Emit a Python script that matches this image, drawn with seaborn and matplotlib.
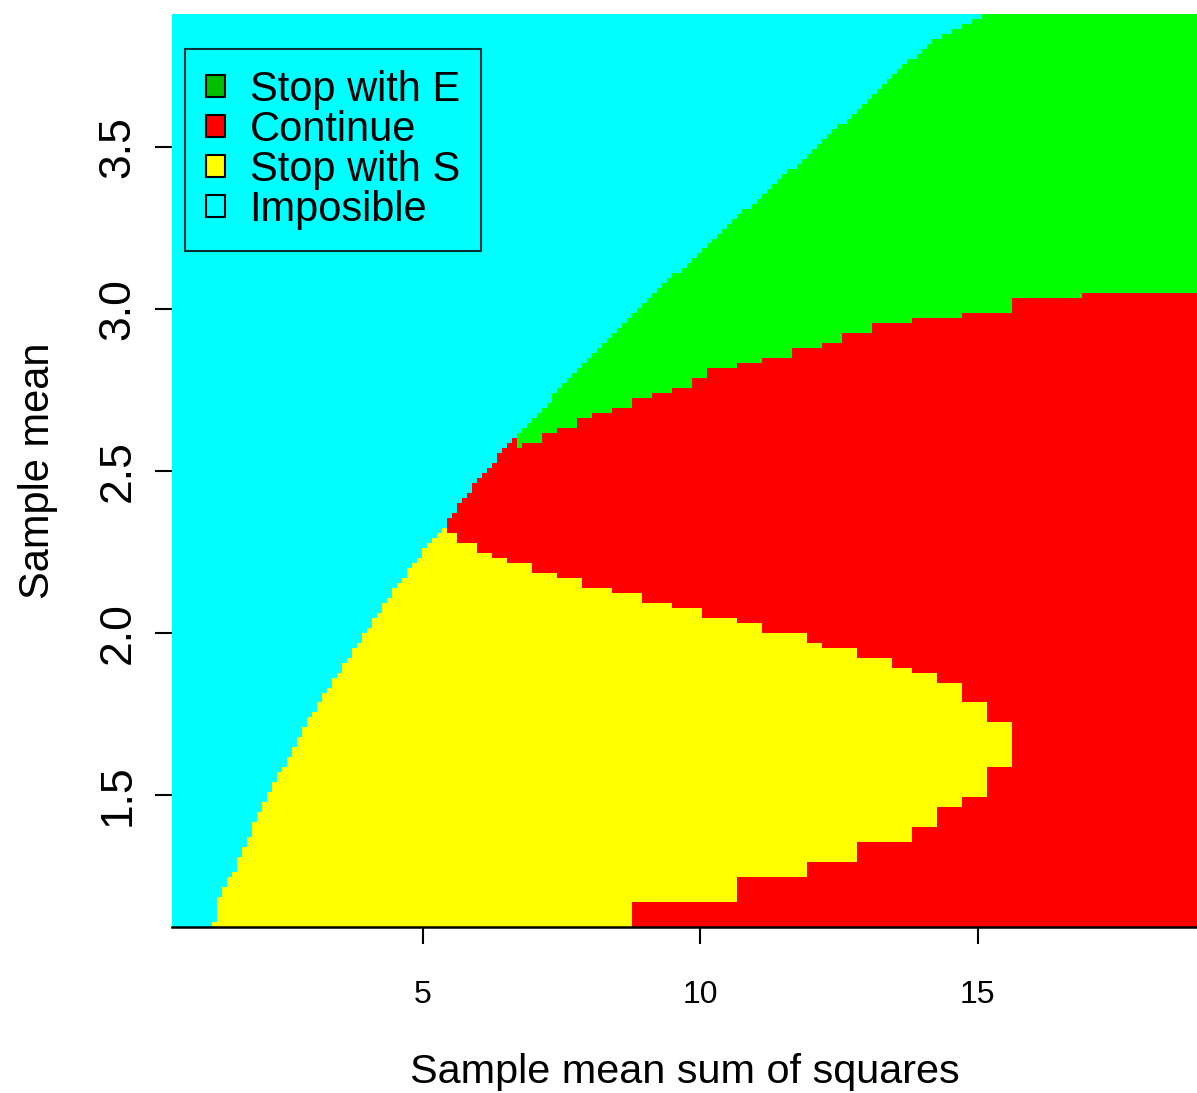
import numpy as np
import matplotlib
matplotlib.use("Agg")
import matplotlib.pyplot as plt
from matplotlib.colors import ListedColormap
from matplotlib.patches import Patch
import seaborn as sns

# ---------------- data ----------------
x_range = [0.48, 18.95]          # sample mean sum of squares
y_range = [1.094, 3.909]         # sample mean

# boundary of the "Imposible" region: for a given sample mean (y), cyan left of x
impossible_y = [1.094, 1.208, 1.272, 1.383, 1.478, 1.60, 1.737, 2.0, 2.162, 2.272,
                2.318, 2.438, 2.49, 2.638, 2.81, 2.95, 3.085, 3.25, 3.5, 3.71,
                3.77, 3.83, 3.909]
impossible_x = [1.22, 1.36, 1.62, 1.90, 2.14, 2.53, 2.95, 3.95, 4.60, 5.10,
                5.33, 5.85, 6.08, 6.85, 7.80, 8.60, 9.43, 10.45, 12.1, 13.45,
                13.81, 14.26, 15.13]

# "Stop with S": horizontal bands (lower edges in y) and right edge in x
stop_s_y_edges = [1.094, 1.168, 1.242, 1.300, 1.358, 1.408, 1.457, 1.500, 1.580,
                  1.722, 1.786, 1.845, 1.875, 1.900, 1.925, 1.949, 1.974, 2.008,
                  2.032, 2.048, 2.072, 2.097, 2.122, 2.146, 2.171, 2.186, 2.214,
                  2.235, 2.254, 2.278, 2.306, 2.318]
stop_s_x_right = [8.73, 10.66, 11.90, 12.82, 13.83, 14.26, 14.69, 15.13, 15.59,
                  15.13, 14.69, 14.26, 13.81, 13.45, 12.82, 12.19, 11.90, 11.13,
                  10.66, 10.06, 9.45, 8.91, 8.39, 7.90, 7.43, 7.00, 6.51, 6.22,
                  5.94, 5.65, 5.41]

# "Stop with E": vertical bands (left edges in x) and lower edge in y
stop_e_x_edges = [6.66, 6.80, 7.14, 7.43, 7.77, 8.06, 8.39, 8.73, 9.11, 9.45, 9.83,
                  10.08, 10.66, 11.13, 11.61, 12.19, 12.53, 13.11, 13.83, 14.69,
                  15.62, 16.86]
stop_e_y_low = [2.574, 2.589, 2.614, 2.638, 2.657, 2.678, 2.697, 2.721, 2.746,
                2.762, 2.786, 2.811, 2.829, 2.851, 2.875, 2.900, 2.925, 2.952,
                2.968, 2.992, 3.026, 3.051]

region_names = ["Imposible", "Stop with S", "Continue", "Stop with E"]
region_colors = ["#00FFFF", "#FFFF00", "#FF0000", "#00FF00"]

legend_labels = ["Stop with E", "Continue", "Stop with S", "Imposible"]
legend_colors = ["#00C000", "#FF0000", "#FFFF00", "none"]

x_ticks = [5, 10, 15]
x_tick_labels = ["5", "10", "15"]
y_ticks = [1.5, 2.0, 2.5, 3.0, 3.5]
y_tick_labels = ["1.5", "2.0", "2.5", "3.0", "3.5"]

# ---------------- rasterise the regions ----------------
nx, ny = 205, 183
x0, x1 = x_range
y0, y1 = y_range
xc = x0 + (np.arange(nx) + 0.5) * (x1 - x0) / nx
yc = y0 + (np.arange(ny) + 0.5) * (y1 - y0) / ny
XX, YY = np.meshgrid(xc, yc)

cat = np.full(XX.shape, 2)  # Continue
sx = np.array(stop_s_x_right)
band = np.searchsorted(stop_s_y_edges, YY, side="right") - 1
valid = (band >= 0) & (band < len(sx))
xr = np.where(valid, sx[np.clip(band, 0, len(sx) - 1)], -np.inf)
yellow = XX < xr

ey = np.array(stop_e_y_low)
gi = np.searchsorted(stop_e_x_edges, XX, side="right") - 1
ylow = np.where(gi >= 0, ey[np.clip(gi, 0, len(ey) - 1)], np.inf)
green = YY >= ylow

cat[green] = 3
cat[yellow] = 1
cyan_edge = np.interp(YY, impossible_y, impossible_x)
cat[XX < cyan_edge] = 0

Z = cat[::-1]  # top row = highest sample mean

# ---------------- plot ----------------
sns.set_style("ticks")
plt.rcParams["font.family"] = ["Liberation Sans", "DejaVu Sans"]
plt.rcParams["text.color"] = "black"
plt.rcParams["axes.labelcolor"] = "black"
plt.rcParams["xtick.color"] = "black"
plt.rcParams["ytick.color"] = "black"

fig = plt.figure(figsize=(11.97, 10.93), dpi=100)
ax = fig.add_axes([172 / 1197, 1 - 927 / 1093, 1025 / 1197, 913 / 1093])

sns.heatmap(Z, cmap=ListedColormap(region_colors), vmin=-0.5, vmax=3.5,
            cbar=False, ax=ax, xticklabels=False, yticklabels=False,
            linewidths=0, rasterized=True)

ax.set_xticks([(v - x0) / (x1 - x0) * nx for v in x_ticks])
ax.set_xticklabels(x_tick_labels)
ax.set_yticks([(y1 - v) / (y1 - y0) * ny for v in y_ticks])
ax.set_yticklabels(y_tick_labels, rotation=90, va="center")

ax.tick_params(axis="x", length=12, width=1.5, labelsize=23, pad=26.5,
               color="black", labelcolor="black", direction="out", bottom=True)
ax.tick_params(axis="y", length=12, width=1.5, labelsize=32, pad=12,
               color="black", labelcolor="black", direction="out", left=True)

for s in ["top", "right", "left"]:
    ax.spines[s].set_visible(False)
ax.spines["bottom"].set_visible(True)
ax.spines["bottom"].set_color("black")
ax.spines["bottom"].set_linewidth(1.8)

ax.set_xlabel("Sample mean sum of squares", fontsize=29.8, color="black")
ax.set_ylabel("Sample mean", fontsize=30, color="black")
ax.xaxis.set_label_coords(0.5, -0.138)
ax.yaxis.set_label_coords(-0.111, 0.5)

handles = [Patch(facecolor=c, edgecolor="black", linewidth=1.5) for c in legend_colors]
leg = ax.legend(handles, legend_labels, loc="upper left",
                bbox_to_anchor=(13 / 1025, 1 - 35 / 913), borderaxespad=0,
                fontsize=30, frameon=True, fancybox=False, edgecolor="black",
                handlelength=0.45, handleheight=0.45, handletextpad=0.6,
                labelspacing=0.0, borderpad=0.5)
leg.get_frame().set_facecolor("none")
leg.get_frame().set_linewidth(1.5)
for t in leg.get_texts():
    t.set_color("black")

fig.savefig("out.png", dpi=100)
